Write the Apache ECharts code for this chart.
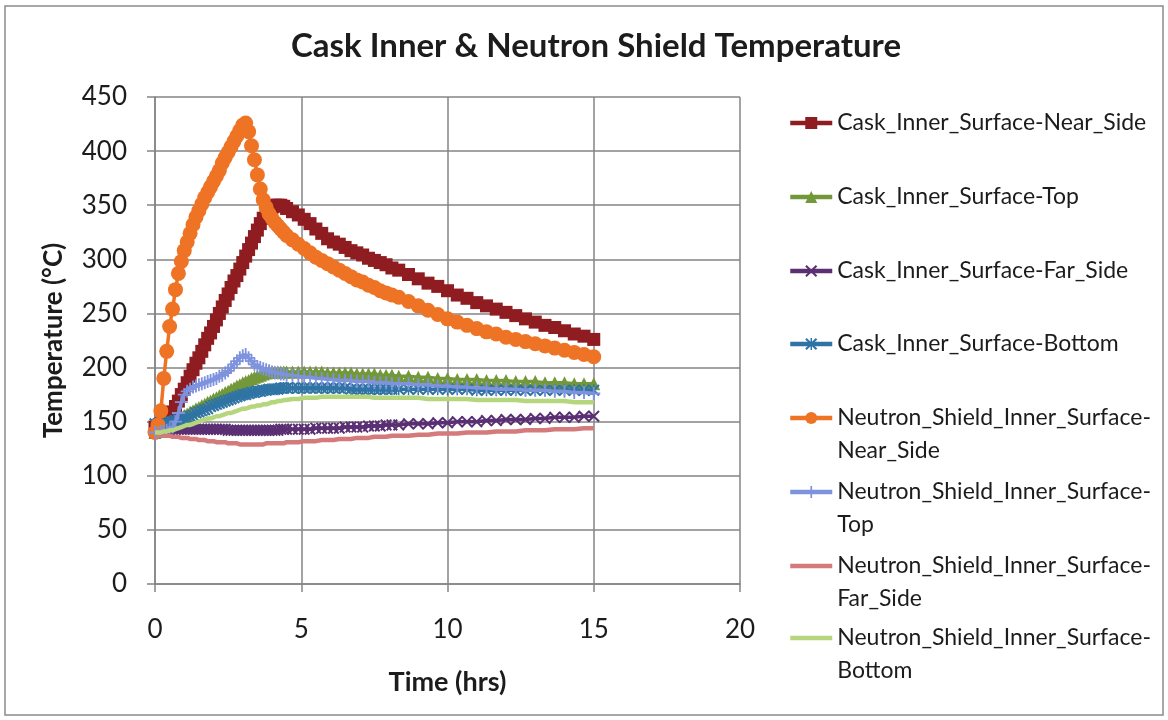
<!DOCTYPE html>
<html>
<head>
<meta charset="utf-8">
<title>Cask Inner &amp; Neutron Shield Temperature</title>
<script src="https://cdn.jsdelivr.net/npm/echarts@6/dist/echarts.min.js"></script>
<style>
  html, body { margin: 0; padding: 0; background: #ffffff; }
  #chart { width: 1168px; height: 720px; }
</style>
</head>
<body>
<div id="chart"></div>
<script>
// Sample times in minutes: 6-min steps to 4.5 h, 12-min steps to 8.1 h, then 20-min steps
const timeMin = [
  0, 6, 12, 18, 24, 30, 36, 42, 48, 54,
  60, 66, 72, 78, 84, 90, 96, 102, 108, 114,
  120, 126, 132, 138, 144, 150, 156, 162, 168, 174,
  180, 186, 192, 198, 204, 210, 216, 222, 228, 234,
  240, 246, 252, 258, 264, 270,
  282, 294, 306, 318, 330, 342, 354, 366, 378, 390,
  402, 414, 426, 438, 450, 462, 474, 486,
  500, 520, 540, 560, 580, 600, 620, 640, 660, 680,
  700, 720, 740, 760, 780, 800, 820, 840, 860, 880, 900];

// Temperatures in °C, one value per sample time
const caskNearSide = [
  145, 146, 148, 150, 152, 155, 159, 164, 169, 175,
  180, 186, 192, 198, 204, 209, 215, 221, 227, 232,
  238, 244, 250, 256, 262, 268, 274, 280, 285, 291,
  297, 303, 309, 315, 321, 327, 333, 338, 343, 346,
  348, 350, 350, 350, 349, 347,
  344, 341, 337, 333, 328, 324, 319, 316, 314, 311,
  308, 306, 304, 301, 299, 297, 295, 292,
  290, 286, 282, 278, 275, 271, 267, 264, 260, 257,
  254, 251, 248, 245, 242, 239, 237, 234, 231, 229, 226];
const caskTop = [
  140, 141, 142, 144, 145, 147, 148, 150, 152, 154,
  156, 157, 159, 160, 162, 163, 165, 166, 168, 169,
  171, 172, 174, 175, 177, 178, 180, 181, 183, 184,
  186, 187, 188, 190, 191, 192, 193, 194, 195, 196,
  196, 196, 196, 196, 196, 196,
  196, 196, 196, 196, 196, 196, 195, 195, 195, 195,
  195, 194, 194, 194, 194, 193, 193, 193,
  192, 192, 191, 191, 190, 190, 189, 189, 189, 188,
  188, 188, 187, 187, 187, 186, 186, 186, 185, 185, 185];
const caskFarSide = [
  140, 141, 141, 142, 142, 142, 143, 143, 143, 143,
  143, 143, 143, 143, 143, 143, 143, 143, 143, 143,
  143, 143, 143, 143, 143, 142, 142, 142, 142, 142,
  142, 142, 142, 142, 142, 142, 142, 142, 142, 142,
  142, 142, 142, 143, 143, 143,
  143, 143, 143, 143, 144, 144, 144, 144, 144, 145,
  145, 145, 145, 146, 146, 146, 147, 147,
  147, 148, 148, 148, 149, 149, 150, 150, 150, 151,
  151, 152, 152, 152, 153, 153, 154, 154, 154, 155, 155];
const caskBottom = [
  148, 148, 148, 149, 149, 150, 150, 151, 152, 152,
  153, 154, 155, 156, 158, 159, 160, 161, 162, 164,
  165, 166, 167, 168, 169, 170, 171, 172, 173, 174,
  175, 175, 176, 177, 177, 178, 178, 179, 179, 180,
  180, 180, 180, 181, 181, 181,
  181, 181, 181, 181, 181, 181, 181, 181, 181, 181,
  180, 180, 180, 180, 180, 180, 180, 180,
  180, 180, 180, 180, 180, 180, 180, 180, 179, 179,
  179, 179, 179, 179, 179, 179, 179, 179, 179, 179, 179];
const shieldNearSide = [
  140, 147, 160, 190, 215, 238, 254, 272, 287, 298,
  308, 316, 324, 332, 339, 345, 351, 357, 362, 367,
  372, 377, 382, 389, 394, 399, 404, 409, 414, 419,
  424, 426, 418, 405, 392, 378, 365, 355, 348, 342,
  338, 334, 331, 328, 325, 322,
  318, 314, 310, 306, 302, 299, 296, 293, 290, 287,
  284, 281, 279, 276, 274, 271, 269, 267,
  265, 261, 257, 253, 249, 245, 242, 239, 236, 233,
  231, 228, 226, 224, 222, 220, 218, 216, 214, 212, 210];
const shieldTop = [
  140, 140, 141, 141, 142, 143, 145, 150, 158, 168,
  175, 178, 180, 182, 183, 184, 185, 186, 187, 188,
  189, 190, 192, 193, 195, 197, 200, 203, 206, 209,
  211, 212, 209, 206, 203, 201, 200, 199, 198, 197,
  196, 195, 195, 194, 194, 193,
  193, 192, 191, 191, 190, 190, 189, 189, 188, 188,
  188, 187, 187, 187, 186, 186, 186, 185,
  185, 185, 184, 184, 183, 183, 182, 182, 181, 181,
  180, 180, 180, 179, 179, 179, 178, 178, 177, 177, 176];
const shieldFarSide = [
  138, 138, 138, 137, 137, 137, 136, 136, 136, 135,
  135, 135, 134, 134, 134, 133, 133, 133, 132, 132,
  132, 131, 131, 131, 131, 130, 130, 130, 130, 129,
  129, 129, 129, 129, 129, 129, 129, 129, 130, 130,
  130, 130, 130, 130, 130, 131,
  131, 131, 132, 132, 132, 133, 133, 133, 134, 134,
  134, 135, 135, 135, 136, 136, 136, 137,
  137, 137, 138, 138, 139, 139, 139, 140, 140, 140,
  141, 141, 141, 142, 142, 142, 143, 143, 143, 144, 144];
const shieldBottom = [
  140, 140, 140, 141, 141, 142, 142, 143, 144, 145,
  146, 147, 147, 148, 149, 150, 151, 152, 153, 153,
  154, 155, 155, 156, 157, 158, 158, 159, 160, 161,
  162, 162, 163, 164, 164, 165, 165, 166, 166, 167,
  168, 168, 169, 169, 170, 170,
  171, 171, 172, 172, 172, 173, 173, 173, 173, 173,
  173, 173, 173, 173, 172, 172, 172, 172,
  172, 172, 172, 171, 171, 171, 171, 171, 170, 170,
  170, 170, 170, 169, 169, 169, 169, 169, 168, 168, 168];

const seriesNames = [
  'Cask_Inner_Surface-Near_Side',
  'Cask_Inner_Surface-Top',
  'Cask_Inner_Surface-Far_Side',
  'Cask_Inner_Surface-Bottom',
  'Neutron_Shield_Inner_Surface-Near_Side',
  'Neutron_Shield_Inner_Surface-Top',
  'Neutron_Shield_Inner_Surface-Far_Side',
  'Neutron_Shield_Inner_Surface-Bottom'
];
const seriesValues = [caskNearSide, caskTop, caskFarSide, caskBottom,
  shieldNearSide, shieldTop, shieldFarSide, shieldBottom];

const xTicks = [0, 5, 10, 15, 20];
const yTicks = [0, 50, 100, 150, 200, 250, 300, 350, 400, 450];

// Marker glyphs
const SYM_X = 'path://M0,1.2L1.2,0L5,3.8L8.8,0L10,1.2L6.2,5L10,8.8L8.8,10L5,6.2L1.2,10L0,8.8L3.8,5Z';
const SYM_STAR = SYM_X + 'M4.4,0H5.6V10H4.4Z';
const SYM_PLUS = 'path://M4.3,0H5.7V4.3H10V5.7H5.7V10H4.3V5.7H0V4.3H4.3Z';

const styles = [
  { color: '#8e1c20', symbol: 'rect', size: 13, width: 3.5 },
  { color: '#73983a', symbol: 'triangle', size: 13, width: 3.5 },
  { color: '#5b2f73', symbol: SYM_X, size: 12, width: 3.5 },
  { color: '#2f74a4', symbol: SYM_STAR, size: 12, width: 3.5 },
  { color: '#ee7324', symbol: 'circle', size: 15, width: 3.5 },
  { color: '#7f92de', symbol: SYM_PLUS, size: 13, width: 3.5 },
  { color: '#d57a7b', symbol: 'none', size: 0, width: 4.5 },
  { color: '#b5d67c', symbol: 'none', size: 0, width: 4.5 }
];

const FONT = 'Lato, "Open Sans", sans-serif';
const TEXT = '#1c1c1c';
const GRIDC = '#858585';

const hours = timeMin.map(m => m / 60);

const series = seriesNames.map((name, i) => ({
  name: name,
  type: 'line',
  data: seriesValues[i].map((v, k) => [hours[k], v]),
  symbol: styles[i].symbol,
  symbolSize: styles[i].size,
  showSymbol: styles[i].symbol !== 'none',
  showAllSymbol: true,
  lineStyle: { color: styles[i].color, width: styles[i].width },
  itemStyle: { color: styles[i].color },
  emphasis: { disabled: true },
  animation: false,
  z: 2 + i
}));

// One legend block per series so every entry keeps an even vertical pitch;
// the wrapped entries get an empty first line so the marker sits on the first text line.
const legendCenters = [123, 197, 271, 344, 418, 492, 566, 638];
const LEG_LINE = 33;
const ICON_H = 15;
const legends = seriesNames.map((name, i) => {
  const wrapped = name.startsWith('Neutron');
  const lines = wrapped ? 3 : 1;
  const plain = styles[i].symbol === 'none';
  return {
    data: [name],
    orient: 'vertical',
    left: 788,
    top: legendCenters[i] - (LEG_LINE * lines) / 2,
    itemWidth: 42,
    itemHeight: ICON_H,
    itemGap: 0,
    padding: 0,
    selectedMode: false,
    lineStyle: { width: 4.5 },
    itemStyle: plain ? { opacity: 0 } : {},
    formatter: function (n) {
      if (!wrapped) return n;
      const cut = n.indexOf('-') + 1;
      return '\n' + n.slice(0, cut) + '\n' + n.slice(cut);
    },
    textStyle: { fontFamily: FONT, fontSize: 23, color: TEXT, lineHeight: LEG_LINE }
  };
});

const chart = echarts.init(document.getElementById('chart'), null, { renderer: 'canvas' });
chart.setOption({
  backgroundColor: '#ffffff',
  animation: false,
  title: {
    text: 'Cask Inner & Neutron Shield Temperature',
    left: 591,
    top: 25,
    textAlign: 'center',
    textStyle: { fontFamily: FONT, fontSize: 33, fontWeight: 'bold', color: TEXT }
  },
  graphic: [{
    type: 'rect',
    shape: { x: 5, y: 6, width: 1158, height: 709 },
    style: { fill: 'none', stroke: '#8a8a8a', lineWidth: 1.5 },
    silent: true
  }],
  legend: legends,
  grid: { left: 155, right: 428, top: 97, bottom: 136, containLabel: false },
  xAxis: {
    type: 'value',
    min: xTicks[0],
    max: xTicks[xTicks.length - 1],
    interval: xTicks[1] - xTicks[0],
    name: 'Time (hrs)',
    nameLocation: 'middle',
    nameGap: 85,
    nameTextStyle: { fontFamily: FONT, fontSize: 27, fontWeight: 'bold', color: TEXT },
    axisLine: { show: true, onZero: false, lineStyle: { color: GRIDC, width: 1.5 } },
    axisTick: { show: true, length: 8, lineStyle: { color: GRIDC, width: 1.5 } },
    axisLabel: { fontFamily: FONT, fontSize: 26, color: TEXT, margin: 33 },
    splitLine: { show: true, lineStyle: { color: GRIDC, width: 1.5 } }
  },
  yAxis: {
    type: 'value',
    min: yTicks[0],
    max: yTicks[yTicks.length - 1],
    interval: yTicks[1] - yTicks[0],
    name: 'Temperature (°C)',
    nameLocation: 'middle',
    nameGap: 88,
    nameTextStyle: { fontFamily: FONT, fontSize: 26, fontWeight: 'bold', color: TEXT },
    axisLine: { show: true, lineStyle: { color: GRIDC, width: 1.5 } },
    axisTick: { show: true, length: 8, lineStyle: { color: GRIDC, width: 1.5 } },
    axisLabel: { fontFamily: FONT, fontSize: 26, color: TEXT, margin: 28 },
    splitLine: { show: true, lineStyle: { color: GRIDC, width: 1.5 } }
  },
  series: series
});
</script>
</body>
</html>
